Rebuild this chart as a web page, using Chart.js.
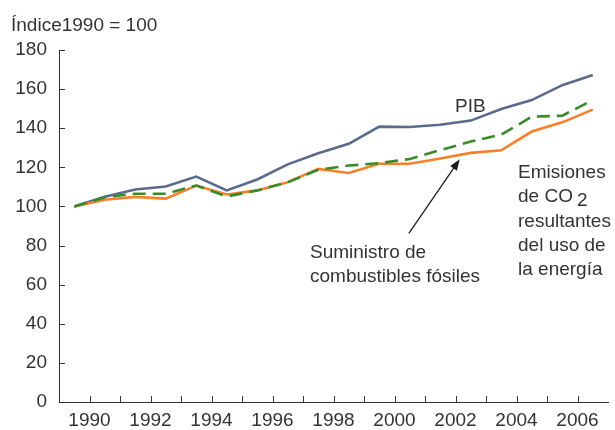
<!DOCTYPE html>
<html>
<head>
<meta charset="utf-8">
<script src="https://cdn.jsdelivr.net/npm/chart.js@4"></script>
<style>
  html, body { margin: 0; padding: 0; background: #fff; }
  #wrap { width: 615px; height: 430px; position: relative; }
</style>
</head>
<body>
<div id="wrap"><canvas id="chart"></canvas></div>
<script>
const years      = [1990, 1991, 1992, 1993, 1994, 1995, 1996, 1997, 1998, 1999, 2000, 2001, 2002, 2003, 2004, 2005, 2006, 2007];
const pib        = [100, 105, 108.7, 110.2, 115.3, 108.2, 113.8, 121.5, 127.2, 132, 140.8, 140.6, 141.8, 143.9, 149.8, 154.4, 162, 167.2];
const emisiones  = [100, 103.4, 104.9, 104, 110.7, 106.1, 108.2, 112.4, 119.2, 117.1, 121.8, 121.8, 124.5, 127.4, 128.7, 138.3, 143, 149.5];
const suministro = [100, 104.7, 106.5, 106.5, 110.7, 105.1, 108.2, 112.4, 118.7, 120.9, 122.1, 124.3, 128.8, 133.2, 136.7, 145.9, 146.4, 154.4];
const xLabels    = [1990, 1992, 1994, 1996, 1998, 2000, 2002, 2004, 2006];
const yMax = 180, yStep = 20;

const slate  = '#5a6a8c';
const orange = '#f7812b';
const green  = '#3a8a2b';
const ink    = '#333333';
const font   = "'Liberation Sans', Arial, sans-serif";

// values sit on the year boundaries, year labels sit mid-year
const pts = vals => vals.map((v, i) => ({ x: years[i] - 0.5, y: v }));

const innerTicks = {
  id: 'innerTicks',
  afterDraw(chart) {
    const { ctx, chartArea: a, scales: { x, y } } = chart;
    ctx.save();
    ctx.strokeStyle = ink;
    ctx.lineWidth = 1;
    ctx.beginPath();
    x.ticks.forEach(t => {
      if (t.value <= x.min || t.value >= x.max) return;
      const px = Math.round(x.getPixelForValue(t.value)) + 0.5;
      ctx.moveTo(px, a.bottom);
      ctx.lineTo(px, a.bottom - 6);
    });
    y.ticks.forEach(t => {
      const py = Math.round(y.getPixelForValue(t.value)) + 0.5;
      ctx.moveTo(a.left, py);
      ctx.lineTo(a.left + 6, py);
    });
    ctx.stroke();
    ctx.restore();
  }
};

const notes = {
  id: 'notes',
  afterDraw(chart) {
    const { ctx, scales: { x, y } } = chart;
    ctx.save();
    ctx.fillStyle = ink;
    ctx.font = '19px ' + font;
    ctx.textBaseline = 'alphabetic';
    ctx.fillText('Índice1990 = 100', 11, 31);
    ctx.fillText('PIB', 455, 112);

    ctx.fillText('Suministro de', 310, 258);
    ctx.fillText('combustibles fósiles', 310, 282);

    ctx.fillText('Emisiones', 518, 178);
    ctx.fillText('de CO', 518, 202);
    ctx.fillText('2', 518 + ctx.measureText('de CO').width + 4, 206);
    ctx.fillText('resultantes', 518, 227);
    ctx.fillText('del uso de', 518, 251);
    ctx.fillText('la energía', 518, 275);

    // arrow to the supply line
    const x0 = x.getPixelForValue(2000.47), y0 = y.getPixelForValue(86.2);
    const x1 = x.getPixelForValue(2002.14), y1 = y.getPixelForValue(124.1);
    const ang = Math.atan2(y1 - y0, x1 - x0);
    ctx.strokeStyle = '#1a1a1a';
    ctx.fillStyle = '#1a1a1a';
    ctx.lineWidth = 1.3;
    ctx.beginPath();
    ctx.moveTo(x0, y0);
    ctx.lineTo(x1 - 8 * Math.cos(ang), y1 - 8 * Math.sin(ang));
    ctx.stroke();
    ctx.beginPath();
    ctx.moveTo(x1, y1);
    ctx.lineTo(x1 - 11 * Math.cos(ang) + 4 * Math.sin(ang), y1 - 11 * Math.sin(ang) - 4 * Math.cos(ang));
    ctx.lineTo(x1 - 11 * Math.cos(ang) - 4 * Math.sin(ang), y1 - 11 * Math.sin(ang) + 4 * Math.cos(ang));
    ctx.closePath();
    ctx.fill();
    ctx.restore();
  }
};

new Chart(document.getElementById('chart'), {
  type: 'line',
  data: {
    datasets: [
      { label: 'Suministro de combustibles fósiles', data: pts(suministro), borderColor: green, borderDash: [13, 7], borderWidth: 2.6 },
      { label: 'Emisiones de CO2', data: pts(emisiones), borderColor: orange, borderWidth: 2.6 },
      { label: 'PIB', data: pts(pib), borderColor: slate, borderWidth: 2.6 }
    ]
  },
  options: {
    responsive: true,
    maintainAspectRatio: false,
    animation: false,
    layout: { padding: { top: 50, right: 0, left: 0, bottom: 0 } },
    elements: { point: { radius: 0 }, line: { tension: 0 } },
    plugins: { legend: { display: false }, tooltip: { enabled: false } },
    scales: {
      x: {
        type: 'linear',
        min: 1989, max: 2007,
        grid: { display: false, drawTicks: false },
        border: { display: true, color: ink, width: 1 },
        afterFit: s => { s.height = 28; },
        ticks: {
          stepSize: 1, autoSkip: false, maxRotation: 0, padding: 7,
          color: ink, font: { family: font, size: 19 },
          callback: v => xLabels.includes(v) ? String(v) : ''
        }
      },
      y: {
        min: 0, max: yMax,
        grid: { display: false, drawTicks: false },
        border: { display: true, color: ink, width: 1 },
        afterFit: s => { s.width = 59; },
        ticks: {
          stepSize: yStep, padding: 12,
          color: ink, font: { family: font, size: 19 }
        }
      }
    }
  },
  plugins: [innerTicks, notes]
});
</script>
</body>
</html>
